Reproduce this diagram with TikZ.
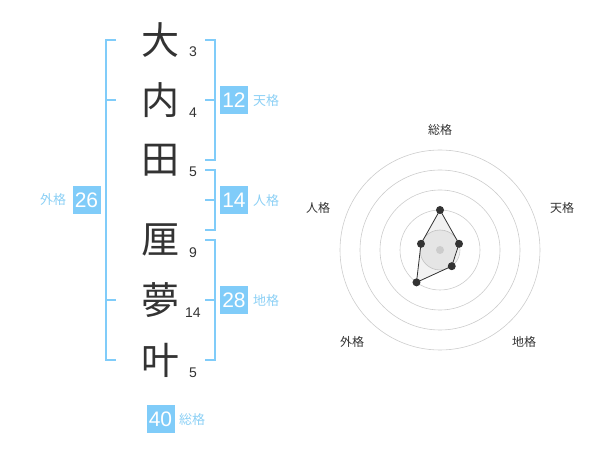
\documentclass[tikz,border=0pt]{standalone}
\usepackage{fontspec}
\setmainfont{Liberation Sans}
\newfontfamily\cjk{Noto Sans CJK JP}
\usetikzlibrary{calc}
\definecolor{brk}{RGB}{128,204,249}
\definecolor{lbl}{RGB}{140,208,245}
\definecolor{ink}{RGB}{51,51,51}
\definecolor{ring}{RGB}{204,204,204}
\tikzset{
  kanji/.style={font=\cjk\fontsize{38}{38}\selectfont, text=ink, inner sep=0pt},
  strokes/.style={font=\fontsize{14}{14}\selectfont, text=ink, inner sep=0pt},
  valbox/.style={fill=brk, text=white, minimum width=28pt, minimum height=28pt, inner sep=0pt, font=\fontsize{21}{21}\selectfont},
  kaku/.style={font=\cjk\fontsize{13}{13}\selectfont, text=lbl, inner sep=0pt},
  brline/.style={draw=brk, line width=2pt},
  radlbl/.style={font=\cjk\fontsize{12}{12}\selectfont, text=ink, inner sep=0pt},
  ringline/.style={draw=ring, line width=0.6pt},
  vdot/.style={circle, fill=ink, inner sep=0pt, minimum size=8pt},
}
\begin{document}
\begin{tikzpicture}[x=1pt,y=-1pt]
\useasboundingbox (0,0) rectangle (600,470);
% characters
\node[kanji] (c1) at (160,40) {大};
\node[kanji] (c2) at (160,100) {内};
\node[kanji] (c3) at (160,160) {田};
\node[kanji] (c4) at (160,240) {厘};
\node[kanji] (c5) at (160,300) {夢};
\node[kanji] (c6) at (160,360) {叶};
\node[strokes] (n1) at (193,52) {3};
\node[strokes] (n2) at (193,113) {4};
\node[strokes] (n3) at (193,172) {5};
\node[strokes] (n4) at (193,253) {9};
\node[strokes] (n5) at (193,313) {14};
\node[strokes] (n6) at (193,373) {5};
% left bracket (gaikaku)
\coordinate (la) at (116,40);
\coordinate (lb) at (116,360);
\draw[brline] (la) -- (106,40) -- (106,360) -- (lb);
\draw[brline] (106,100) -- (116,100);
\draw[brline] (106,300) -- (116,300);
\node[valbox] (v26) at (86.5,200) {26};
\node[kaku] (k26) at (53,200) {外格};
% right brackets
\draw[brline] (205,40) -- (215,40) -- (215,160) -- (205,160);
\draw[brline] (215,100) -- (205,100);
\node[valbox] (v12) at (234,100) {12};
\node[kaku] (k12) at (266,101) {天格};
\draw[brline] (205,170) -- (215,170) -- (215,230) -- (205,230);
\draw[brline] (215,200) -- (205,200);
\node[valbox] (v14) at (234,200) {14};
\node[kaku] (k14) at (266,201) {人格};
\draw[brline] (205,240) -- (215,240) -- (215,360) -- (205,360);
\draw[brline] (215,300) -- (205,300);
\node[valbox] (v28) at (234,300) {28};
\node[kaku] (k28) at (266,301) {地格};
\node[valbox] (v40) at (160.5,419) {40};
\node[kaku] (k40) at (192,420) {総格};
% radar
\coordinate (c) at (440,250);
\fill[black!5] (c) circle (20pt);
\foreach \r in {20,40,60,80,100} \draw[ringline] (c) circle (\r pt);
\coordinate (p1) at ($(c)+(90:40pt)$);
\coordinate (p2) at ($(c)+(18:20pt)$);
\coordinate (p3) at ($(c)+(-54:20pt)$);
\coordinate (p4) at ($(c)+(234:40pt)$);
\coordinate (p5) at ($(c)+(162:20pt)$);
\fill[black, fill opacity=0.05] (p1) -- (p2) -- (p3) -- (p4) -- (p5) -- cycle;
\draw[ink, line width=0.8pt] (p1) -- (p2) -- (p3) -- (p4) -- (p5) -- cycle;
\node[circle, fill=ring, inner sep=0pt, minimum size=8pt] (cd) at (c) {};
\foreach \i in {1,...,5} \node[vdot] (d\i) at (p\i) {};
\node[radlbl] (r1) at (440,130) {総格};
\node[radlbl] (r2) at (562,208) {天格};
\node[radlbl] (r3) at (524,342) {地格};
\node[radlbl] (r4) at (352,342) {外格};
\node[radlbl] (r5) at (318,208) {人格};
\end{tikzpicture}
\end{document}
